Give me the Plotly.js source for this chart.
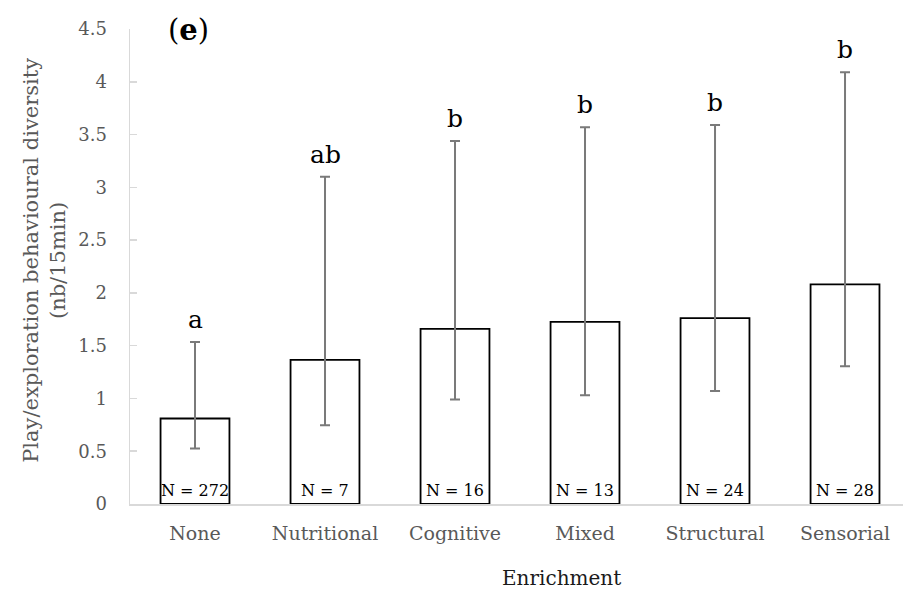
<!DOCTYPE html>
<html>
<head>
<meta charset="utf-8">
<script src="https://cdn.plot.ly/plotly-3.0.1.min.js"></script>
<style>html,body{margin:0;padding:0;background:#fff;}#chart{width:903px;height:599px;}</style>
</head>
<body>
<div id="chart"></div>
<script>
var categories = ["None", "Nutritional", "Cognitive", "Mixed", "Structural", "Sensorial"];
var means = [0.81, 1.365, 1.66, 1.725, 1.76, 2.08];
var upperLimits = [1.535, 3.10, 3.44, 3.57, 3.59, 4.09];
var lowerLimits = [0.525, 0.745, 0.99, 1.03, 1.07, 1.305];
var groupLetters = ["a", "ab", "b", "b", "b", "b"];
var sampleSizes = ["N = 272", "N = 7", "N = 16", "N = 13", "N = 24", "N = 28"];

var errPlus = means.map(function(m, i){ return upperLimits[i] - m; });
var errMinus = means.map(function(m, i){ return m - lowerLimits[i]; });

var serif = "DejaVu Serif, Liberation Serif, serif";

var trace = {
  type: "bar",
  x: categories,
  y: means,
  width: 0.53,
  marker: {color: "#ffffff", line: {color: "#000000", width: 1.8}},
  error_y: {
    type: "data", symmetric: false,
    array: errPlus, arrayminus: errMinus,
    color: "#7a7a7a", thickness: 2, width: 5
  },
  hoverinfo: "skip"
};

var annotations = [];
categories.forEach(function(c, i){
  annotations.push({
    x: c, y: upperLimits[i], xref: "x", yref: "y",
    text: groupLetters[i], showarrow: false,
    yanchor: "bottom", yshift: 6,
    font: {family: serif, size: 25, color: "#000"}
  });
  annotations.push({
    x: c, y: 0, xref: "x", yref: "y",
    text: sampleSizes[i], showarrow: false,
    yanchor: "bottom", yshift: 2,
    font: {family: serif, size: 16, color: "#000"}
  });
});
annotations.push({
  xref: "paper", yref: "paper", x: 0.0763, y: 0.998,
  xanchor: "center", yanchor: "middle",
  text: "(<b>e</b>)", showarrow: false,
  font: {family: serif, size: 29, color: "#000"}
});
annotations.push({
  xref: "paper", yref: "paper", x: 0.5576, y: -0.156,
  xanchor: "center", yanchor: "middle",
  text: "Enrichment", showarrow: false,
  font: {family: serif, size: 20, color: "#1a1a1a"}
});
annotations.push({
  xref: "paper", yref: "paper", x: -0.11, y: 0.514,
  xanchor: "center", yanchor: "middle", textangle: -90,
  text: "Play/exploration behavioural diversity<br>(nb/15min)", showarrow: false,
  font: {family: serif, size: 21, color: "#595959"}
});

var layout = {
  width: 903, height: 599,
  margin: {l: 130, r: 0, t: 29, b: 95},
  paper_bgcolor: "#fff", plot_bgcolor: "#fff",
  showlegend: false,
  xaxis: {
    range: [-0.5, 5.446],
    showgrid: false, zeroline: false,
    showline: true, linecolor: "#d9d9d9", linewidth: 2,
    ticks: "", ticklen: 0,
    ticklabelstandoff: 11,
    tickfont: {family: serif, size: 19, color: "#595959"}
  },
  yaxis: {
    range: [0, 4.5],
    dtick: 0.5,
    showgrid: false, zeroline: false,
    showline: true, linecolor: "#d9d9d9", linewidth: 1.5,
    ticks: "inside", ticklen: 7, tickcolor: "#d9d9d9", tickwidth: 1.5,
    tickfont: {family: serif, size: 18, color: "#595959"},
    ticklabelstandoff: 18
  },
  annotations: annotations
};

Plotly.newPlot("chart", [trace], layout, {displayModeBar: false, staticPlot: true});
</script>
</body>
</html>
